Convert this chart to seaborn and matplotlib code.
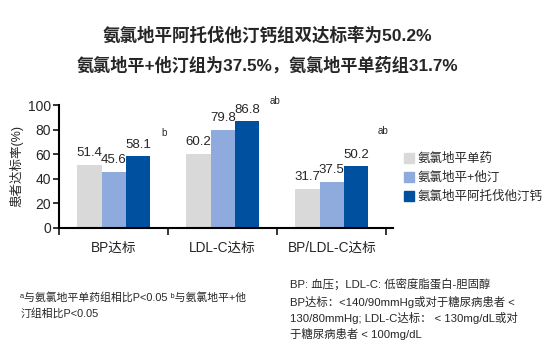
import matplotlib
matplotlib.use("Agg")
import matplotlib.pyplot as plt
import seaborn as sns
import pandas as pd
from matplotlib.lines import Line2D

# Chart data
categories = ['BP达标', 'LDL-C达标', 'BP/LDL-C达标']
groups = ['氨氯地平单药', '氨氯地平+他汀', '氨氯地平阿托伐他汀钙']
mono = [51.4, 60.2, 31.7]
plus_statin = [45.6, 79.8, 37.5]
combo = [58.1, 86.8, 50.2]
colors = ['#D9D9D9', '#8FAADC', '#0050A0']
yticks = [0, 20, 40, 60, 80, 100]
sig_marks = ['b', 'ab', 'ab']

rows = []
for g, vals in zip(groups, [mono, plus_statin, combo]):
    for c, v in zip(categories, vals):
        rows.append({'cat': c, 'group': g, 'value': v})
df = pd.DataFrame(rows)

sns.set_style("white")
plt.rcParams['font.family'] = ['Liberation Sans', 'Noto Sans CJK SC', 'DejaVu Sans']

fig = plt.figure(figsize=(5.58, 3.56), dpi=100)
ax = fig.add_axes([0.106, 0.36, 0.598, 0.345])

sns.barplot(data=df, x='cat', y='value', hue='group', palette=colors,
            order=categories, hue_order=groups, width=0.667, gap=0,
            errorbar=None, legend=False, ax=ax, saturation=1, linewidth=0)

for cont in ax.containers:
    ax.bar_label(cont, fmt='%.1f', padding=4, fontsize=9.5)

ax.set_ylim(0, 100)
ax.set_yticks(yticks)
ax.set_xlim(-0.5, 2.56)
ax.set_xlabel('')
ax.set_ylabel('患者达标率(%)', fontsize=9, labelpad=3)
ax.tick_params(axis='y', labelsize=10, direction='out', length=4, width=1.3, left=True, pad=2)
ax.tick_params(axis='x', labelsize=9.8, length=0, pad=9)
ax.set_xticks([-0.5, 0.5, 1.5, 2.5], minor=True)
ax.tick_params(axis='x', which='minor', direction='out', length=5, width=1.3, bottom=True)
for s in ['top', 'right']:
    ax.spines[s].set_visible(False)
for s in ['left', 'bottom']:
    ax.spines[s].set_linewidth(1.5)
    ax.spines[s].set_color('black')

# significance marks
for x, y, m in zip([0.46, 1.48, 2.47], [77, 103, 79], sig_marks):
    ax.text(x, y, m, fontsize=7, ha='center', va='center', clip_on=False)

handles = [Line2D([], [], marker='s', linestyle='', markersize=6.5,
                  markerfacecolor=c, markeredgecolor=c) for c in colors]
fig.legend(handles, groups, loc='center left', bbox_to_anchor=(0.703, 0.50),
           frameon=False, fontsize=9, handletextpad=0.3, labelspacing=0.55,
           handlelength=0.8)

fig.text(0.48, 0.902, '氨氯地平阿托伐他汀钙组双达标率为50.2%', ha='center', va='center',
         fontsize=12.6, fontweight='bold')
fig.text(0.48, 0.818, '氨氯地平+他汀组为37.5%，氨氯地平单药组31.7%', ha='center', va='center',
         fontsize=12.3, fontweight='bold')

fig.text(0.036, 0.165, 'ᵃ与氨氯地平单药组相比P<0.05 ᵇ与氨氯地平+他', fontsize=7.8, va='center')
fig.text(0.036, 0.12, '汀组相比P<0.05', fontsize=7.8, va='center')

fig.text(0.52, 0.203, 'BP: 血压；LDL-C: 低密度脂蛋白-胆固醇', fontsize=8.2, va='center')
fig.text(0.52, 0.152, 'BP达标：<140/90mmHg或对于糖尿病患者 <', fontsize=8.2, va='center')
fig.text(0.52, 0.107, '130/80mmHg; LDL-C达标： < 130mg/dL或对', fontsize=8.2, va='center')
fig.text(0.52, 0.062, '于糖尿病患者 < 100mg/dL', fontsize=8.2, va='center')

fig.savefig('out.png', dpi=100)
